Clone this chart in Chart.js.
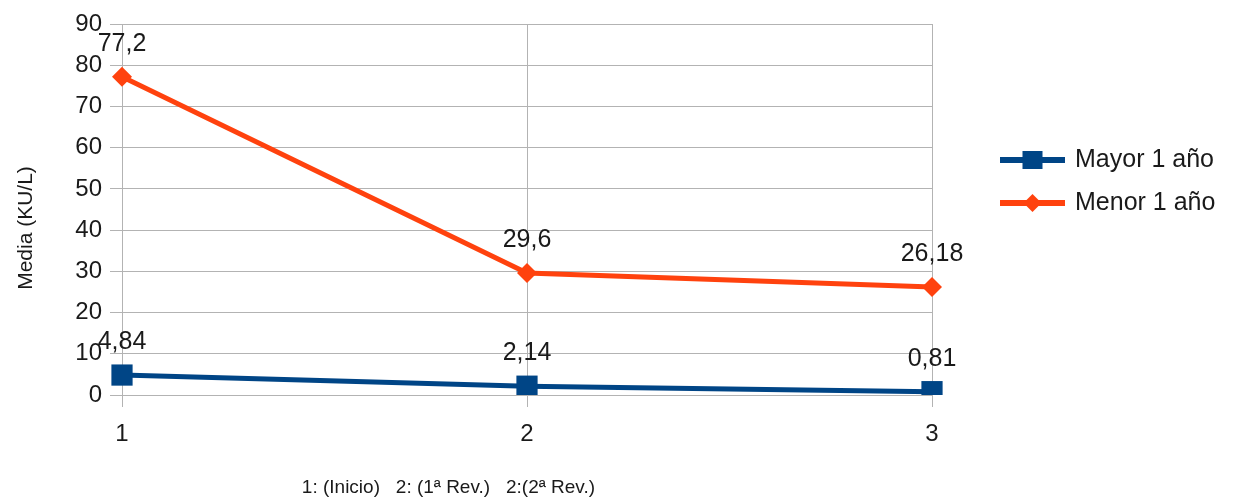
<!DOCTYPE html>
<html>
<head>
<meta charset="utf-8">
<script src="https://cdn.jsdelivr.net/npm/chart.js@4"></script>
<style>
  html, body { margin: 0; padding: 0; background: #fff; }
  #wrap { width: 1239px; height: 502px; }
</style>
</head>
<body>
<div id="wrap"><canvas id="lineChart"></canvas></div>
<script>
'use strict';

// Data
var categories = ['1', '2', '3'];
var mayorValues = [4.84, 2.14, 0.81];
var menorValues = [77.2, 29.6, 26.18];
var mayorLabels = ['4,84', '2,14', '0,81'];
var menorLabels = ['77,2', '29,6', '26,18'];
var seriesNames = ['Mayor 1 año', 'Menor 1 año'];
var yTitle = 'Media (KU/L)';
var xTitle = '1: (Inicio)   2: (1ª Rev.)   2:(2ª Rev.)';

var blue = '#004586';
var orange = '#ff420e';
var gridColor = '#b3b3b3';
var textColor = '#1a1a1a';
var fontFamily = "'Liberation Sans', Arial, sans-serif";

// value labels above points, legend on the right, axis captions
var extras = {
    id: 'extras',
    afterDatasetsDraw: function (chart) {
        var ctx = chart.ctx;
        var area = chart.chartArea;
        ctx.save();
        ctx.fillStyle = textColor;
        ctx.font = '25px ' + fontFamily;
        ctx.textAlign = 'center';
        ctx.textBaseline = 'middle';
        chart.data.datasets.forEach(function (ds, i) {
            var meta = chart.getDatasetMeta(i);
            meta.data.forEach(function (pt, j) {
                ctx.fillText(ds.valueLabels[j], pt.x, pt.y - 33);
            });
        });

        // legend
        var lx = 1000, lw = 65;
        var rows = [160, 203];
        chart.data.datasets.forEach(function (ds, i) {
            var y = rows[i];
            ctx.strokeStyle = ds.borderColor;
            ctx.lineWidth = 6;
            ctx.beginPath();
            ctx.moveTo(lx, y);
            ctx.lineTo(lx + lw, y);
            ctx.stroke();
            ctx.fillStyle = ds.borderColor;
            var cx = lx + lw / 2;
            if (ds.pointStyle === 'rect') {
                ctx.fillRect(cx - 10, y - 9, 20, 18);
            } else {
                ctx.beginPath();
                ctx.moveTo(cx - 9, y);
                ctx.lineTo(cx, y - 9);
                ctx.lineTo(cx + 9, y);
                ctx.lineTo(cx, y + 9);
                ctx.closePath();
                ctx.fill();
            }
            ctx.fillStyle = textColor;
            ctx.textAlign = 'left';
            ctx.font = '25px ' + fontFamily;
            ctx.fillText(ds.label, lx + 75, y);
        });

        // x caption
        ctx.font = '19px ' + fontFamily;
        ctx.textAlign = 'center';
        ctx.fillText(xTitle, area.left + (area.right - area.left) * 0.403, 488);

        // y caption
        ctx.translate(26, 228);
        ctx.rotate(-Math.PI / 2);
        ctx.font = '21px ' + fontFamily;
        ctx.fillText(yTitle, 0, 0);
        ctx.restore();
    }
};

var ctxEl = document.getElementById('lineChart');
var myLineChart = new Chart(ctxEl, {
    type: 'line',
    data: {
        labels: categories,
        datasets: [
            {
                label: seriesNames[0],
                data: mayorValues,
                valueLabels: mayorLabels,
                borderColor: blue,
                backgroundColor: blue,
                borderWidth: 5,
                pointStyle: 'rect',
                pointRadius: 15,
                pointHoverRadius: 15,
                pointBorderWidth: 0,
                tension: 0
            },
            {
                label: seriesNames[1],
                data: menorValues,
                valueLabels: menorLabels,
                borderColor: orange,
                backgroundColor: orange,
                borderWidth: 5,
                pointStyle: 'rectRot',
                pointRadius: 10,
                pointHoverRadius: 10,
                pointBorderWidth: 0,
                tension: 0
            }
        ]
    },
    options: {
        responsive: true,
        maintainAspectRatio: false,
        animation: false,
        layout: { padding: { left: 10, right: 307, top: 24, bottom: 0 } },
        plugins: {
            legend: { display: false },
            tooltip: { enabled: false }
        },
        scales: {
            x: {
                type: 'category',
                offset: false,
                grid: { color: gridColor, lineWidth: 1, offset: false, tickLength: 12, tickColor: gridColor },
                border: { color: gridColor },
                ticks: { color: textColor, font: { family: fontFamily, size: 24 }, padding: 13, maxRotation: 0 },
                afterFit: function (s) { s.height = 107; }
            },
            y: {
                min: 0,
                max: 90,
                ticks: { stepSize: 10, color: textColor, font: { family: fontFamily, size: 24 }, padding: 8 },
                grid: { color: gridColor, lineWidth: 1, tickLength: 12, tickColor: gridColor },
                border: { color: gridColor },
                afterFit: function (s) { s.width = 112; }
            }
        }
    },
    plugins: [extras]
});
</script>
</body>
</html>
